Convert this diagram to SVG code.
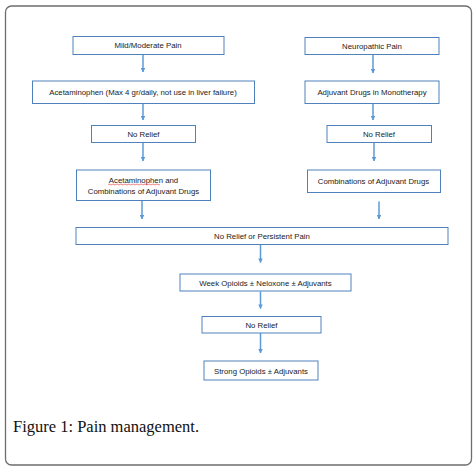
<svg xmlns="http://www.w3.org/2000/svg" width="475" height="471" viewBox="0 0 475 471">
<defs>
<marker id="ah" viewBox="0 0 10 10" refX="9" refY="5" markerWidth="3" markerHeight="3" orient="auto" markerUnits="strokeWidth">
<path d="M0,0 L10,5 L0,10 z" fill="#5b9bd5"/>
</marker>
<style>
.box{fill:#ffffff;stroke:#4f81bd;stroke-width:1}
.t{font-family:"Liberation Sans",Arial,sans-serif;font-size:7.8px;fill:#1a1a1a;text-anchor:middle}
.c{stroke:#5b9bd5;stroke-width:1.5;fill:none;marker-end:url(#ah)}
.cap{font-family:"Liberation Serif","Times New Roman",serif;font-size:16.5px;fill:#111}
</style>
</defs>
<rect x="0" y="0" width="475" height="471" fill="#ffffff"/>
<rect x="5.5" y="6" width="466" height="459" rx="6" ry="6" fill="#ffffff" stroke="#6e6e6e" stroke-width="1.3"/>
<g id="connectors">
<line class="c" x1="143" y1="54.5" x2="143" y2="72"/>
<line class="c" x1="143" y1="103.5" x2="143" y2="120"/>
<line class="c" x1="143" y1="143" x2="143" y2="161"/>
<line class="c" x1="142" y1="201" x2="142" y2="219"/>
<line class="c" x1="373" y1="54.5" x2="373" y2="73"/>
<line class="c" x1="373" y1="103.5" x2="373" y2="120"/>
<line class="c" x1="374" y1="143" x2="374" y2="161"/>
<line class="c" x1="379" y1="201.5" x2="379" y2="219"/>
<line class="c" x1="260.5" y1="244.5" x2="260.5" y2="262.5"/>
<line class="c" x1="260.5" y1="291.5" x2="260.5" y2="308.5"/>
<line class="c" x1="260.5" y1="333" x2="260.5" y2="353"/>
</g>
<g id="n_mild">
<rect class="box" x="73" y="36.5" width="151" height="18"/>
<text class="t" x="148" y="48.2">Mild/Moderate Pain</text>
</g>
<g id="n_acet">
<rect class="box" x="32.5" y="81" width="222" height="22.5"/>
<text class="t" x="143" y="94.8">Acetaminophen (Max 4 gr/daily, not use in liver failure)</text>
</g>
<g id="n_norelief1">
<rect class="box" x="91.5" y="125.5" width="104" height="17"/>
<text class="t" x="143.5" y="136.8">No Relief</text>
</g>
<g id="n_acetcomb">
<rect class="box" x="76.5" y="170" width="134" height="30.5"/>
<text class="t" x="143.5" y="182.5">Acetaminophen and</text>
<text class="t" x="143.5" y="194.3">Combinations of Adjuvant Drugs</text>
<path d="M108,184.5 q1,-1 2,0 t2,0 t2,0 t2,0 t2,0 t2,0 t2,0 t2,0 t2,0 t2,0 t2,0 t2,0 t2,0 t2,0 t2,0 t2,0 t2,0 t2,0 t2,0 t2,0 t2,0 t2,0 t2,0 t2,0 t2,0 t2,0" fill="none" stroke="#e03030" stroke-width="0.6"/>
</g>
<g id="n_neuro">
<rect class="box" x="305" y="37.5" width="134" height="17"/>
<text class="t" x="372" y="48.8">Neuropathic Pain</text>
</g>
<g id="n_adjmono">
<rect class="box" x="305" y="81" width="134" height="22.5"/>
<text class="t" x="372" y="94.8">Adjuvant Drugs in Monotherapy</text>
</g>
<g id="n_norelief2">
<rect class="box" x="327" y="125.5" width="104.5" height="17"/>
<text class="t" x="379" y="136.8">No Relief</text>
</g>
<g id="n_adjcomb">
<rect class="box" x="307.5" y="170" width="133" height="22.5"/>
<text class="t" x="373.5" y="183.8">Combinations of Adjuvant Drugs</text>
</g>
<g id="n_persist">
<rect class="box" x="76" y="227.5" width="372" height="17"/>
<text class="t" x="262" y="239.2">No Relief or Persistent Pain</text>
</g>
<g id="n_weak">
<rect class="box" x="180" y="274" width="171" height="17"/>
<text class="t" x="265.5" y="285.8">Week Opioids ± Neloxone ± Adjuvants</text>
</g>
<g id="n_norelief3">
<rect class="box" x="202" y="316.5" width="119" height="16.5"/>
<text class="t" x="261.5" y="328.2">No Relief</text>
</g>
<g id="n_strong">
<rect class="box" x="204" y="361" width="114" height="19"/>
<text class="t" x="261" y="373.8">Strong Opioids ± Adjuvants</text>
</g>
<text class="cap" x="13" y="432">Figure 1: Pain management.</text>
</svg>
